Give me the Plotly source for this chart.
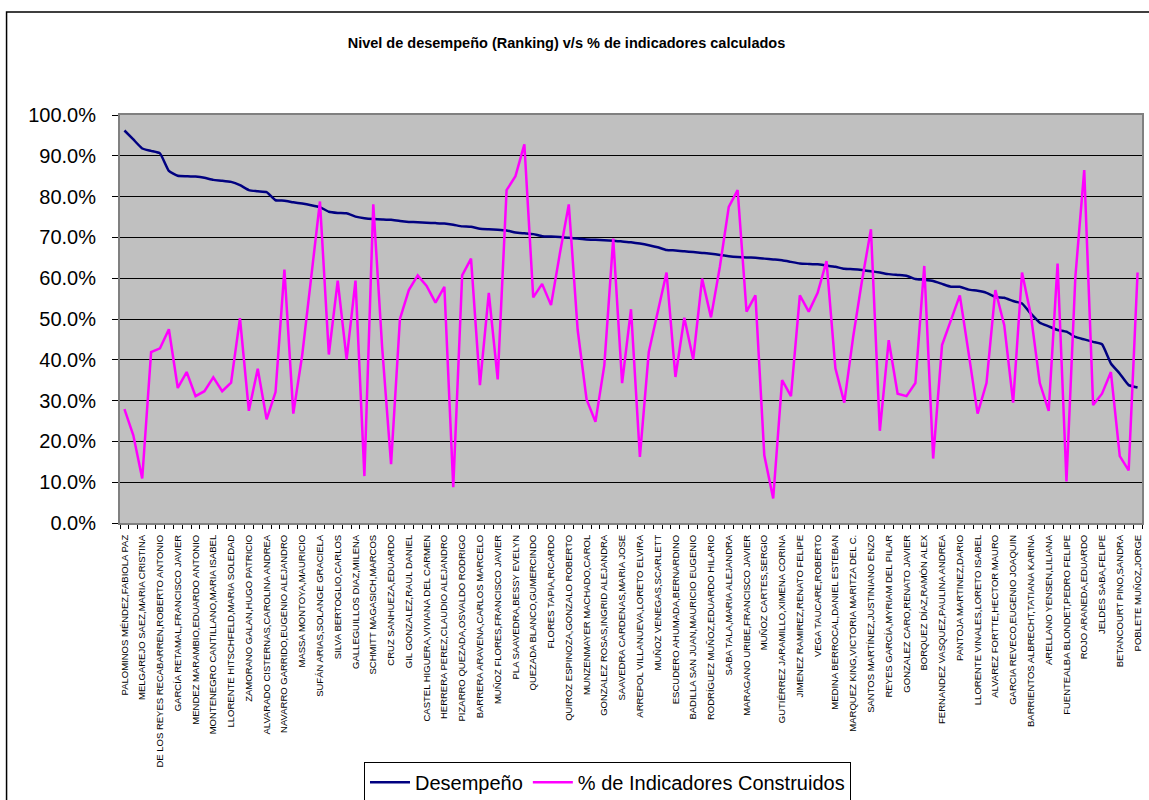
import plotly.graph_objects as go

# ---- data -------------------------------------------------------------
label_positions = list(range(0, 115, 2))
tick_labels = [
    "PALOMINOS MÉNDEZ,FABIOLA PAZ", "MELGAREJO SAEZ,MARIA CRISTINA",
    "DE LOS REYES RECABARREN,ROBERTO ANTONIO", "GARCÍA RETAMAL,FRANCISCO JAVIER",
    "MENDEZ MARAMBIO,EDUARDO ANTONIO", "MONTENEGRO CANTILLANO,MARIA ISABEL",
    "LLORENTE HITSCHFELD,MARIA SOLEDAD", "ZAMORANO GALAN,HUGO PATRICIO",
    "ALVARADO CISTERNAS,CAROLINA ANDREA", "NAVARRO GARRIDO,EUGENIO ALEJANDRO",
    "MASSA MONTOYA,MAURICIO", "SUFÁN ARIAS,SOLANGE GRACIELA",
    "SILVA BERTOGLIO,CARLOS", "GALLEGUILLOS DIAZ,MILENA",
    "SCHMITT MAGASICH,MARCOS", "CRUZ SANHUEZA,EDUARDO",
    "GIL GONZALEZ,RAUL DANIEL", "CASTEL HIGUERA,VIVIANA DEL CARMEN",
    "HERRERA PEREZ,CLAUDIO ALEJANDRO", "PIZARRO QUEZADA,OSVALDO RODRIGO",
    "BARRERA ARAVENA,CARLOS MARCELO", "MUÑOZ FLORES,FRANCISCO JAVIER",
    "PLA SAAVEDRA,BESSY EVELYN", "QUEZADA BLANCO,GUMERCINDO",
    "FLORES TAPIA,RICARDO", "QUIROZ ESPINOZA,GONZALO ROBERTO",
    "MUNZENMAYER MACHADO,CAROL", "GONZALEZ ROSAS,INGRID ALEJANDRA",
    "SAAVEDRA CARDENAS,MARIA JOSE", "ARREPOL VILLANUEVA,LORETO ELVIRA",
    "MUÑOZ VENEGAS,SCARLETT", "ESCUDERO AHUMADA,BERNARDINO",
    "BADILLA SAN JUAN,MAURICIO EUGENIO", "RODRÍGUEZ MUÑOZ,EDUARDO HILARIO",
    "SABA TALA,MARIA ALEJANDRA", "MARAGANO URIBE,FRANCISCO JAVIER",
    "MUÑOZ CARTES,SERGIO", "GUTIÉRREZ JARAMILLO,XIMENA CORINA",
    "JIMENEZ RAMIREZ,RENATO FELIPE", "VEGA TAUCARE,ROBERTO",
    "MEDINA BERROCAL,DANIEL ESTEBAN", "MARQUEZ KING,VICTORIA MARITZA DEL C.",
    "SANTOS MARTÍNEZ,JUSTINIANO ENZO", "REYES GARCÍA,MYRIAM DEL PILAR",
    "GONZALEZ CARO,RENATO JAVIER", "BORQUEZ DÍAZ,RAMÓN ALEX",
    "FERNANDEZ VASQUEZ,PAULINA ANDREA", "PANTOJA MARTINEZ,DARIO",
    "LLORENTE VINALES,LORETO ISABEL", "ALVAREZ FORTTE,HECTOR MAURO",
    "GARCIA REVECO,EUGENIO JOAQUIN", "BARRIENTOS ALBRECHT,TATIANA KARINA",
    "ARELLANO YENSEN,LILIANA", "FUENTEALBA BLONDET,PEDRO FELIPE",
    "ROJO ARANEDA,EDUARDO", "JELDES SABA,FELIPE",
    "BETANCOURT PINO,SANDRA", "POBLETE MUÑOZ,JORGE",
]

desempeno = [
    96.2, 94.0, 91.8, 91.2, 90.6, 86.3, 85.1, 85.0, 84.9, 84.6,
    84.1, 83.9, 83.6, 82.8, 81.6, 81.3, 81.1, 79.1, 79.0, 78.6,
    78.3, 77.9, 77.4, 76.3, 76.0, 75.9, 75.1, 74.7, 74.5, 74.4,
    74.3, 74.0, 73.8, 73.7, 73.6, 73.5, 73.4, 73.1, 72.7, 72.6,
    72.1, 72.0, 71.9, 71.7, 71.2, 71.0, 70.8, 70.3, 70.2, 70.1,
    69.9, 69.7, 69.5, 69.4, 69.3, 69.2, 69.0, 68.8, 68.5, 68.1,
    67.6, 66.9, 66.8, 66.6, 66.4, 66.2, 66.0, 65.7, 65.4, 65.2,
    65.1, 65.0, 64.8, 64.6, 64.4, 64.0, 63.6, 63.5, 63.4, 63.1,
    62.8, 62.3, 62.2, 62.0, 61.7, 61.4, 61.0, 60.8, 60.6, 59.8,
    59.6, 59.3, 58.6, 57.9, 57.9, 57.2, 56.9, 56.4, 55.4, 55.2,
    54.4, 53.8, 51.3, 49.1, 48.2, 47.3, 46.9, 45.6, 45.0, 44.4,
    43.8, 39.1, 36.6, 33.8, 33.2,
]

indicadores = [
    27.9, 21.5, 10.9, 41.9, 42.8, 47.5, 33.1, 37.0, 31.1, 32.3,
    35.7, 32.3, 34.4, 50.2, 27.5, 37.8, 25.4, 32.1, 62.1, 26.8,
    41.1, 59.5, 78.8, 41.3, 59.4, 40.1, 59.4, 11.5, 78.1, 43.0,
    14.4, 50.0, 57.1, 60.7, 58.1, 54.0, 57.9, 8.8, 60.7, 64.8,
    33.8, 56.4, 35.2, 81.6, 85.0, 92.8, 55.3, 58.6, 53.4, 66.1,
    78.1, 47.3, 30.3, 24.8, 38.7, 69.7, 34.3, 52.4, 16.2, 41.9,
    51.3, 61.4, 35.8, 50.3, 40.1, 59.9, 50.4, 62.8, 77.5, 81.6,
    51.8, 55.8, 16.6, 6.0, 35.0, 31.1, 55.8, 51.8, 56.4, 64.2,
    37.9, 29.5, 45.6, 59.5, 72.0, 22.6, 44.8, 31.7, 31.1, 34.3,
    63.0, 15.8, 43.6, 49.7, 55.8, 41.5, 26.8, 34.3, 57.1, 48.5,
    29.5, 61.4, 50.9, 34.3, 27.5, 63.6, 10.2, 60.3, 86.5, 28.9,
    31.7, 37.0, 16.4, 12.9, 61.4,
]

idx = list(range(len(desempeno)))

# ---- figure -----------------------------------------------------------
fig = go.Figure()
fig.add_trace(go.Scatter(
    x=idx, y=desempeno, mode="lines", name="Desempeño",
    line=dict(color="#000080", width=2.5, shape="spline", smoothing=0.4),
))
fig.add_trace(go.Scatter(
    x=idx, y=indicadores, mode="lines", name="% de Indicadores Construidos",
    line=dict(color="#FF00FF", width=2.5),
))

fig.update_layout(
    width=1149, height=800,
    margin=dict(l=119.5, r=7, t=115, b=277.3, pad=0, autoexpand=False),
    paper_bgcolor="white",
    plot_bgcolor="#C0C0C0",
    font=dict(family="Liberation Sans, Arial, sans-serif", color="black"),
    title=dict(
        text="<b>Nivel de desempeño (Ranking) v/s % de indicadores calculados</b>",
        x=0.493, xanchor="center", y=1 - 43 / 800, yanchor="middle",
        font=dict(size=14.5, color="black"),
    ),
    showlegend=True,
    legend=dict(
        orientation="h", x=0.477, xanchor="center", y=-0.585, yanchor="top",
        bordercolor="black", borderwidth=1, bgcolor="white",
        font=dict(size=20, color="black"),
        itemwidth=40, tracegroupgap=0,
    ),
    xaxis=dict(
        range=[-0.5, len(desempeno) - 0.5],
        tickmode="array", tickvals=label_positions, ticktext=tick_labels,
        tickangle=-90, tickfont=dict(size=9.5, color="black"),
        ticks="", showgrid=False, zeroline=False,
        showline=True, linecolor="#808080", linewidth=2, mirror=True,
        minor=dict(ticks="outside", tickmode="linear", tick0=0.5, dtick=1,
                   ticklen=4, tickcolor="black", tickwidth=1, showgrid=False),
        ticklabelstandoff=6,
    ),
    yaxis=dict(
        range=[0, 100], tickmode="linear", tick0=0, dtick=10,
        tickformat=".1f", ticksuffix="%",
        tickfont=dict(size=20, color="black"),
        ticks="outside", ticklen=6, tickcolor="black",
        showgrid=True, gridcolor="black", gridwidth=1,
        zeroline=False,
        showline=True, linecolor="#808080", linewidth=2, mirror=True,
        ticklabelstandoff=12,
    ),
    shapes=[
        dict(type="rect", xref="paper", yref="paper",
             x0=(6 - 119.5) / 1022.5, x1=1.2,
             y0=-1.0, y1=(522.7 - 12) / 407.7,
             line=dict(color="black", width=1.5), fillcolor="rgba(0,0,0,0)",
             layer="below"),
    ],
)

fig.write_html(
    "out.html",
    config={"displayModeBar": False},
    post_script="document.body.style.margin='0';document.body.style.overflow='hidden';",
)
